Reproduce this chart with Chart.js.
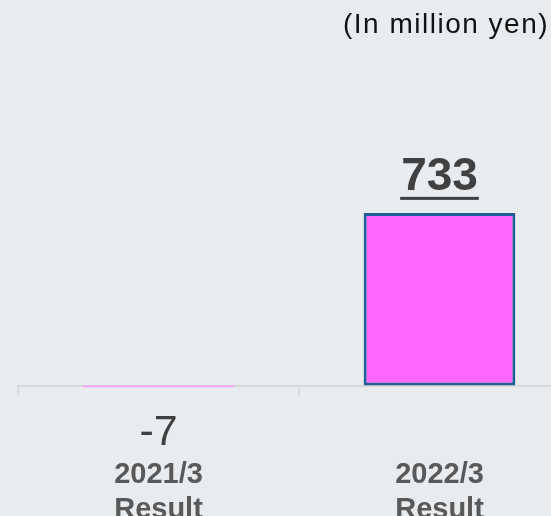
<!DOCTYPE html>
<html>
<head>
<meta charset="utf-8">
<script src="https://cdn.jsdelivr.net/npm/chart.js@4.4.1/dist/chart.umd.min.js"></script>
<style>
  html, body { margin: 0; padding: 0; background: #e9ecef; overflow: hidden; width: 551px; height: 516px; }
  #wrap { position: absolute; left: 0; top: 0; width: 600px; height: 516px; }
</style>
</head>
<body>
<div id="wrap"><canvas id="c"></canvas></div>
<script>
const categories = [['2021/3', 'Result'], ['2022/3', 'Result']];
const values = [-7, 733];
const valueLabels = ['-7', '733'];
const unitLabel = '(In million yen)';

const FONT = '"Liberation Sans", Arial, sans-serif';

const labelPlugin = {
  id: 'valueLabels',
  afterDraw(chart) {
    const ctx = chart.ctx;
    const meta = chart.getDatasetMeta(0);
    ctx.save();
    ctx.fillStyle = '#404040';
    ctx.textAlign = 'center';
    ctx.textBaseline = 'alphabetic';
    meta.data.forEach((el, i) => {
      const v = values[i];
      const txt = valueLabels[i];
      if (v >= 0) {
        ctx.font = 'bold 46px ' + FONT;
        const by = el.y - 22.5;
        ctx.fillText(txt, el.x, by);
        const w = ctx.measureText(txt).width;
        ctx.fillRect(el.x - w / 2 - 1, by + 6.5, w + 2, 3);
      } else {
        ctx.font = '43px ' + FONT;
        ctx.fillText(txt, el.x, el.base + 59);
      }
    });
    // unit label
    ctx.font = '28px ' + FONT;
    ctx.letterSpacing = '1.5px';
    ctx.fillStyle = '#111111';
    ctx.textAlign = 'left';
    ctx.fillText(unitLabel, 343, 33);
    ctx.restore();
  }
};

new Chart(document.getElementById('c'), {
  type: 'bar',
  data: {
    labels: categories,
    datasets: [{
      data: values,
      backgroundColor: ['#f9a0f5', '#ff66ff'],
      borderColor: ['#f9a0f5', '#1f5f96'],
      borderWidth: [0, 3],
      borderSkipped: false,
      barPercentage: 0.54,
      categoryPercentage: 1,
      clip: false
    }]
  },
  options: {
    responsive: true,
    maintainAspectRatio: false,
    animation: false,
    devicePixelRatio: 1,
    layout: { padding: { top: 150, left: 18, right: 20, bottom: 0 } },
    plugins: {
      legend: { display: false },
      title: { display: false },
      tooltip: { enabled: false }
    },
    scales: {
      x: {
        type: 'category',
        offset: true,
        z: 1,
        border: { display: true, color: '#d9d9d9', width: 2 },
        grid: {
          display: true,
          offset: true,
          drawOnChartArea: false,
          drawTicks: true,
          tickLength: 10,
          color: '#dcdcdc',
          lineWidth: 2.5
        },
        ticks: {
          font: { family: FONT, size: 29, weight: 'bold', lineHeight: 35 / 29 },
          color: '#595959',
          padding: 62,
          maxRotation: 0,
          autoSkip: false
        },
        afterFit(s) { s.height = 130.5; }
      },
      y: {
        display: false,
        min: 0,
        max: 1000
      }
    }
  },
  plugins: [labelPlugin]
});
</script>
</body>
</html>
